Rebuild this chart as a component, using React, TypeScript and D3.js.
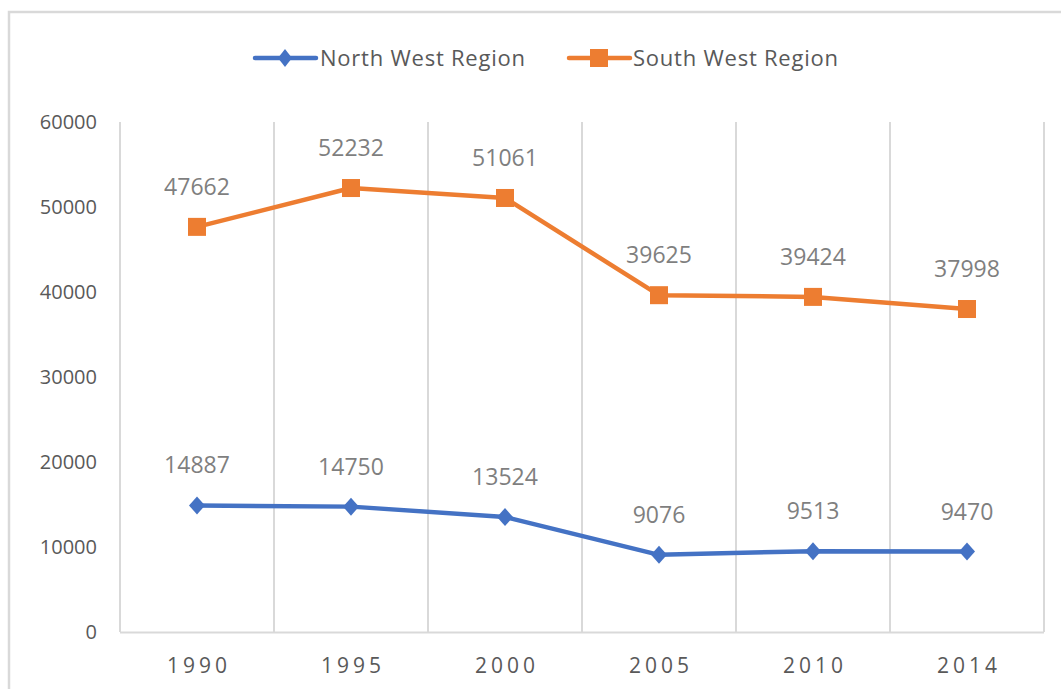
import * as d3 from 'd3'

const years = ['1990', '1995', '2000', '2005', '2010', '2014']
const northWest = [14887, 14750, 13524, 9076, 9513, 9470]
const southWest = [47662, 52232, 51061, 39625, 39424, 37998]
const yTicks = [0, 10000, 20000, 30000, 40000, 50000, 60000]

const W = 1061
const H = 689
const FONT = '"Open Sans", "Noto Sans", sans-serif'
const BLUE = '#4472C4'
const ORANGE = '#ED7D31'

export default function App() {
  const x = d3.scaleBand<string>().domain(years).range([120, 1044])
  const y = d3.scaleLinear().domain([0, 60000]).range([632, 122])
  const line = d3.line<number>()
    .x((_, i) => (x(years[i]) as number) + x.bandwidth() / 2)
    .y(d => y(d))

  const cx = (i: number) => (x(years[i]) as number) + x.bandwidth() / 2
  const bounds = years.map(yr => x(yr) as number).concat([1044])

  return (
    <svg width={W} height={H} style={{ position: 'absolute', left: 0, top: 0, background: '#fff' }}>
      {/* chart border */}
      <rect x={9} y={12} width={W + 20} height={H + 20} fill="#fff" stroke="#d9d9d9" strokeWidth={2.5} />

      {/* vertical gridlines */}
      {bounds.map((b, i) => (
        <line key={i} x1={b} x2={b} y1={122} y2={632} stroke="#d9d9d9" strokeWidth={2} />
      ))}
      {/* x axis */}
      <line x1={120} x2={1044} y1={632.5} y2={632.5} stroke="#d9d9d9" strokeWidth={2} />

      {/* y tick labels */}
      {yTicks.map(t => (
        <text key={t} x={97} y={y(t)} dy="0.36em" textAnchor="end" fill="#595959"
          fontFamily={FONT} fontSize={20}>{t}</text>
      ))}

      {/* x labels */}
      {years.map((yr, i) => (
        <text key={yr} x={cx(i) + 2} y={665} dy="0.36em" textAnchor="middle" fill="#595959"
          fontFamily={FONT} fontSize={21} letterSpacing={4}>{yr}</text>
      ))}

      {/* lines */}
      <path d={line(southWest) || ''} fill="none" stroke={ORANGE} strokeWidth={4.5} strokeLinejoin="round" />
      <path d={line(northWest) || ''} fill="none" stroke={BLUE} strokeWidth={4.5} strokeLinejoin="round" />

      {/* markers */}
      {southWest.map((v, i) => (
        <rect key={i} x={cx(i) - 9} y={y(v) - 9} width={18} height={18} fill={ORANGE} />
      ))}
      {northWest.map((v, i) => (
        <path key={i} d="M0,-9L8,0L0,9L-8,0Z" transform={`translate(${cx(i)},${y(v)})`} fill={BLUE} />
      ))}

      {/* data labels */}
      {southWest.map((v, i) => (
        <text key={'s' + i} x={cx(i)} y={y(v) - 32} textAnchor="middle" fill="#7f7f7f"
          fontFamily={FONT} fontSize={23}>{v}</text>
      ))}
      {northWest.map((v, i) => (
        <text key={'n' + i} x={cx(i)} y={y(v) - 32} textAnchor="middle" fill="#7f7f7f"
          fontFamily={FONT} fontSize={23}>{v}</text>
      ))}

      {/* legend */}
      <g fontFamily={FONT} fontSize={22} fill="#595959">
        <line x1={255} x2={316} y1={58} y2={58} stroke={BLUE} strokeWidth={4.5} strokeLinecap="round" />
        <path d="M0,-9L7,0L0,9L-7,0Z" transform="translate(285,58)" fill={BLUE} />
        <text x={320} y={58} dy="0.36em" textLength={205}>North West Region</text>
        <line x1={569} x2={630} y1={58} y2={58} stroke={ORANGE} strokeWidth={4.5} strokeLinecap="round" />
        <rect x={590} y={49} width={18} height={18} fill={ORANGE} />
        <text x={633} y={58} dy="0.36em" textLength={205}>South West Region</text>
      </g>
    </svg>
  )
}
